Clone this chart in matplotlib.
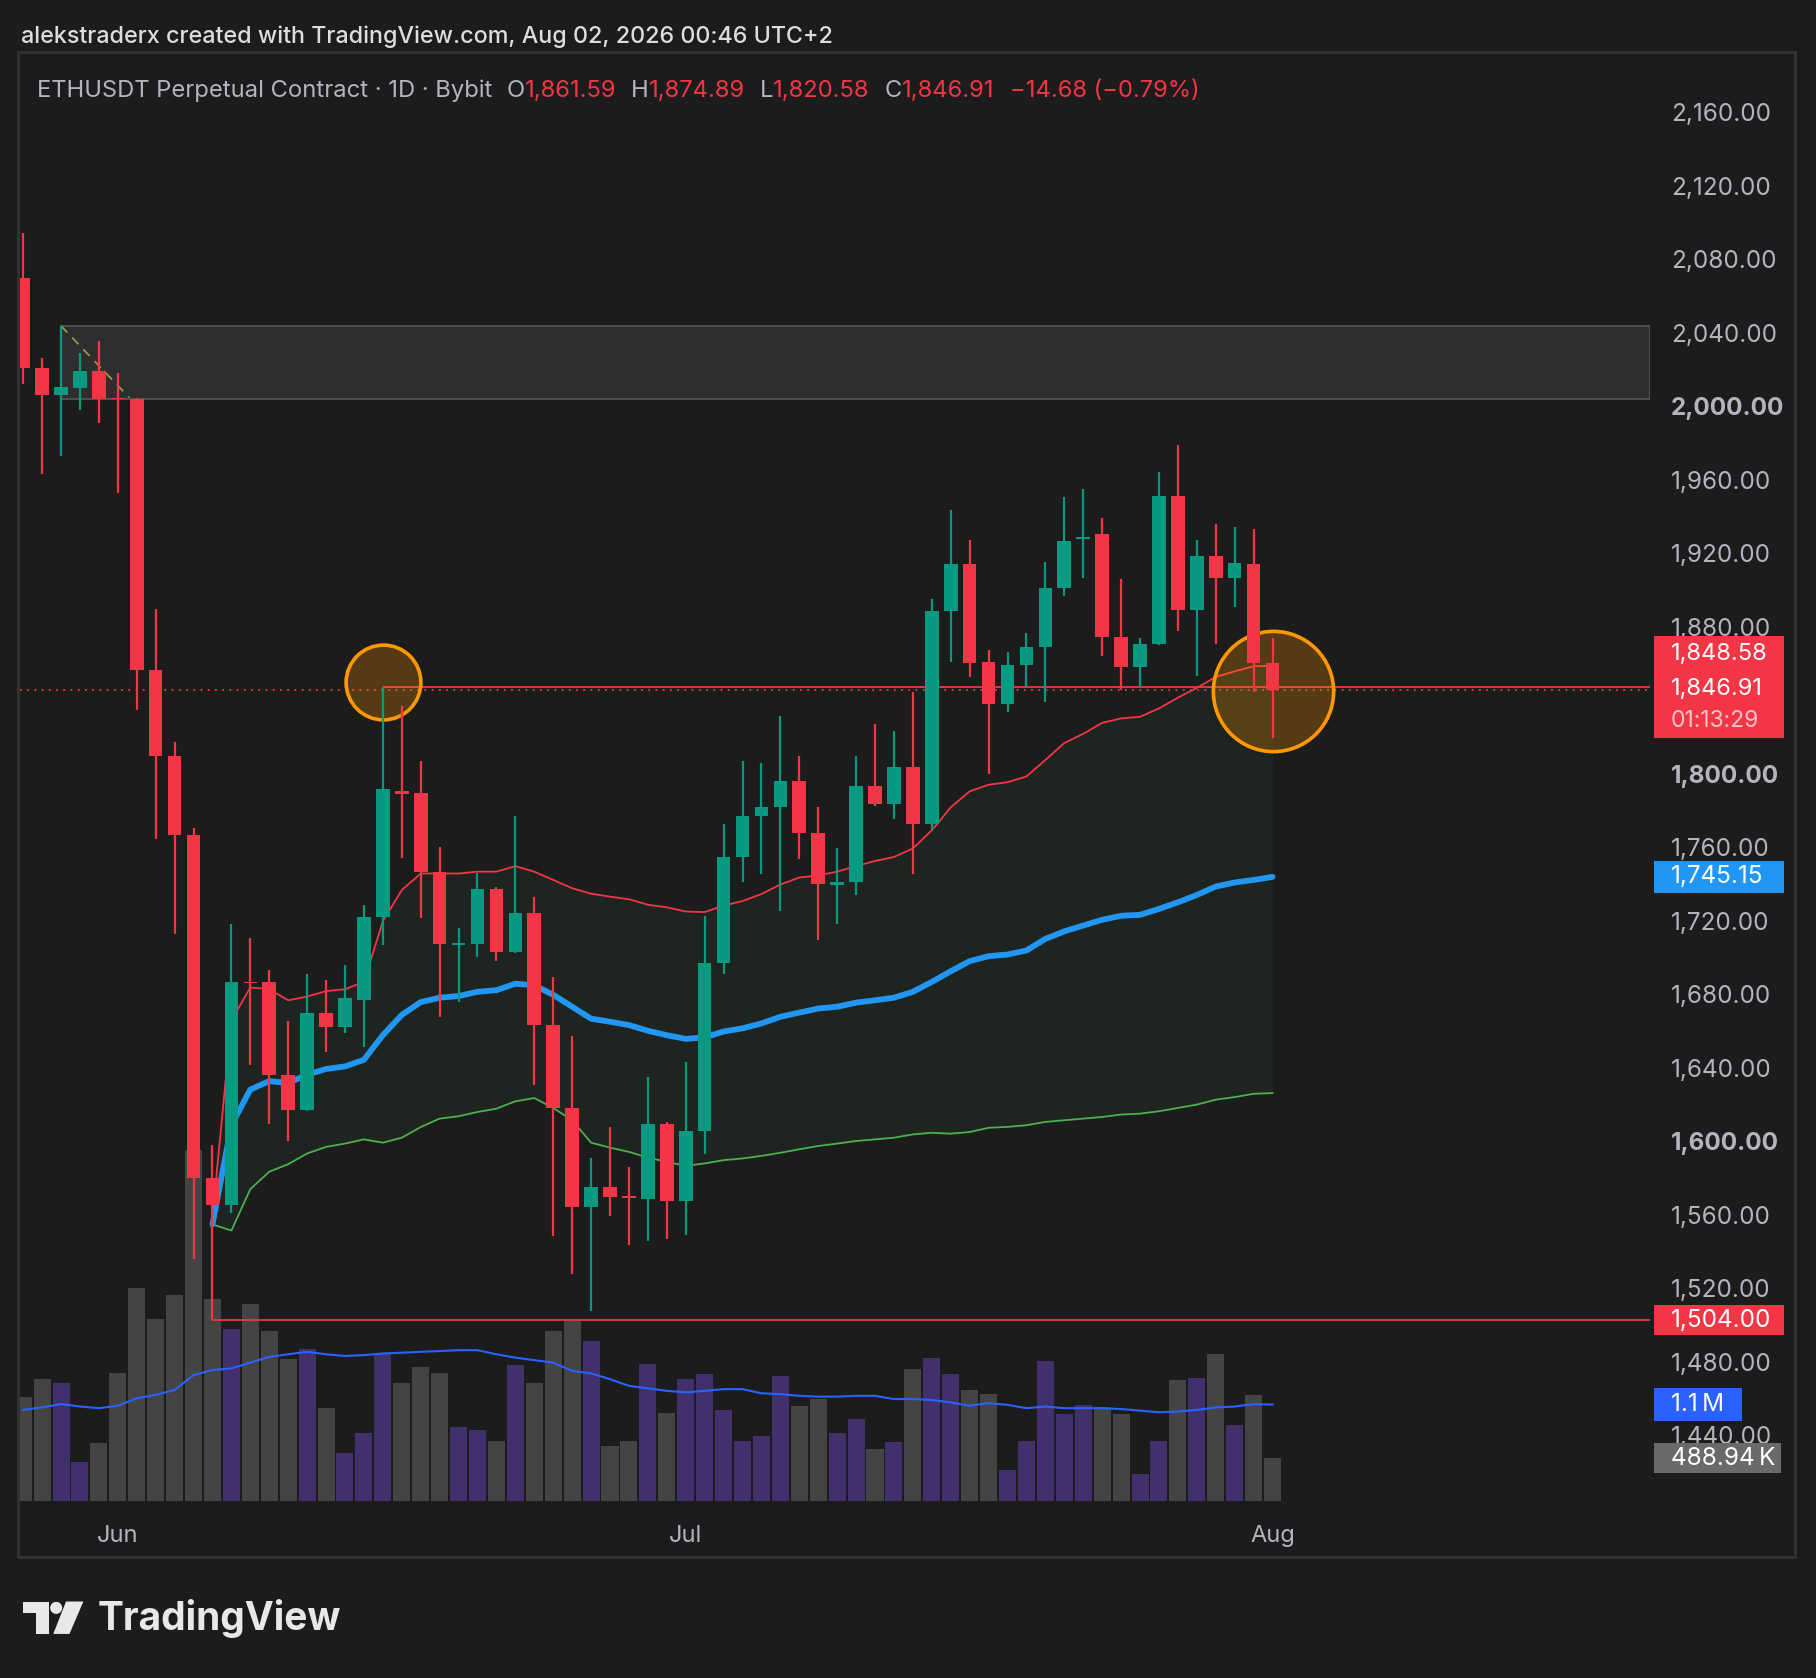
import numpy as np
import pandas as pd
import matplotlib
matplotlib.use('Agg')
import matplotlib.pyplot as plt
import matplotlib.dates as mdates
from matplotlib.transforms import blended_transform_factory
from matplotlib.patches import Rectangle, Circle, Polygon

plt.rcParams['font.family'] = ['Inter', 'DejaVu Sans']

# ---------------------------------------------------------------------------
# data (ETHUSDT perp, 1D, May 27 -> Aug 1)
# ---------------------------------------------------------------------------
dates = pd.date_range('2026-05-27', periods=67, freq='D')

opens = [2071.3, 2022.2, 2007.3, 2011.3, 2020.3, 2005.8, 2005.0, 1857.5, 1811.1, 1768.2,
         1581.1, 1566.6, 1688.0, 1688.0, 1637.5, 1618.5, 1671.3, 1663.6, 1678.0, 1723.1,
         1792.0, 1790.8, 1748.0, 1708.0, 1708.7, 1738.5, 1704.2, 1725.4, 1664.5, 1619.4,
         1565.3, 1576.6, 1571.2, 1570.0, 1610.4, 1569.0, 1606.8, 1698.3, 1756.0, 1778.2,
         1783.1, 1797.5, 1769.1, 1741.0, 1742.5, 1794.8, 1784.9, 1805.2, 1774.1, 1890.0,
         1915.7, 1862.0, 1839.5, 1860.2, 1870.2, 1902.2, 1929.0, 1931.5, 1875.6, 1859.3,
         1872.0, 1952.2, 1890.5, 1919.8, 1908.0, 1915.7, 1861.59]
highs = [2095.7, 2027.6, 2045.0, 2030.3, 2036.6, 2019.5, 2005.5, 1890.9, 1818.8, 1771.8,
         1599.0, 1719.5, 1712.0, 1694.7, 1666.8, 1692.5, 1689.3, 1697.0, 1730.0, 1848.58,
         1838.2, 1808.0, 1761.5, 1717.3, 1747.0, 1739.8, 1778.2, 1734.4, 1690.6, 1658.6,
         1592.3, 1609.0, 1587.0, 1636.5, 1611.7, 1644.2, 1724.0, 1774.1, 1808.4, 1807.0,
         1832.7, 1811.1, 1783.1, 1760.6, 1811.1, 1828.2, 1824.6, 1845.8, 1896.3, 1945.0,
         1928.3, 1868.8, 1867.5, 1877.8, 1916.6, 1951.8, 1956.3, 1940.5, 1907.2, 1875.1,
         1965.3, 1980.2, 1928.3, 1937.4, 1935.6, 1934.7, 1874.89]
lows = [2013.2, 1964.4, 1974.4, 1999.2, 1992.0, 1954.0, 1836.0, 1766.0, 1714.1, 1537.3,
        1504.0, 1562.0, 1643.0, 1610.4, 1601.4, 1618.0, 1649.6, 1660.0, 1652.3, 1708.3,
        1755.6, 1723.0, 1669.0, 1677.0, 1701.5, 1699.3, 1704.0, 1632.0, 1549.5, 1529.2,
        1509.0, 1560.8, 1545.0, 1547.0, 1548.0, 1550.4, 1594.6, 1692.5, 1742.1, 1746.6,
        1726.8, 1754.7, 1711.0, 1719.5, 1735.3, 1783.6, 1776.4, 1746.6, 1770.5, 1862.0,
        1853.9, 1801.2, 1835.0, 1848.5, 1840.4, 1898.0, 1908.0, 1865.6, 1846.7, 1848.5,
        1871.1, 1878.7, 1854.4, 1872.0, 1891.8, 1846.0, 1820.58]
closes = [2022.2, 2007.3, 2011.8, 2020.3, 2005.0, 2005.0, 1857.5, 1811.1, 1768.2, 1581.1,
          1566.6, 1688.0, 1687.2, 1637.5, 1618.5, 1671.3, 1663.6, 1679.0, 1723.1, 1793.0,
          1790.0, 1748.0, 1708.7, 1709.0, 1738.5, 1704.2, 1725.4, 1664.5, 1619.4, 1565.3,
          1576.6, 1571.2, 1570.5, 1610.4, 1569.0, 1606.8, 1698.3, 1756.0, 1778.2, 1783.1,
          1797.5, 1769.1, 1741.2, 1742.5, 1794.8, 1784.9, 1805.2, 1774.1, 1890.0, 1915.7,
          1861.6, 1839.5, 1860.2, 1870.2, 1902.2, 1927.9, 1929.7, 1875.6, 1859.3, 1872.0,
          1952.2, 1890.5, 1919.8, 1908.0, 1916.2, 1861.6, 1846.91]

# volume in thousands + its moving average
volume_k = [1182, 1390, 1343, 444, 662, 1466, 2430, 2071, 2345, 4000,
            2307, 1957, 2250, 1938, 1617, 1730, 1059, 548, 775, 1674,
            1343, 1532, 1456, 841, 813, 681, 1551, 1352, 1938, 2052,
            1825, 633, 690, 1560, 1002, 1390, 1447, 1040, 681, 737,
            1428, 1087, 1163, 775, 936, 596, 671, 1503, 1626, 1447,
            1267, 1220, 350, 681, 1598, 993, 1097, 1078, 993, 303,
            681, 1380, 1399, 1674, 870, 1210, 488.94]
vol_ma_k = [1040, 1068, 1106, 1078, 1059, 1087, 1172, 1210, 1267, 1437,
            1494, 1513, 1579, 1645, 1674, 1702, 1674, 1655, 1664, 1683,
            1692, 1702, 1711, 1721, 1721, 1674, 1636, 1607, 1579, 1484,
            1456, 1390, 1314, 1286, 1257, 1239, 1257, 1276, 1276, 1229,
            1220, 1200, 1191, 1191, 1200, 1200, 1163, 1163, 1153, 1125,
            1087, 1116, 1097, 1059, 1078, 1059, 1059, 1059, 1049, 1031,
            1012, 1021, 1040, 1068, 1078, 1106, 1100]

# band indicator, starts at the Jun 6 bar (index 10)
band_start = 10
band_upper = [1560, 1667, 1685, 1684, 1678, 1680, 1683, 1684, 1688, 1721,
              1738, 1747, 1747, 1747, 1748, 1748, 1751, 1748, 1743.5, 1739,
              1736, 1734.4, 1733, 1730, 1728.6, 1726.3, 1726, 1729.5, 1732, 1735.8,
              1741, 1744.8, 1746, 1748, 1751, 1753.8, 1756, 1760.6, 1770.5, 1783,
              1791.7, 1795.3, 1796.7, 1799.8, 1808.8, 1818, 1823, 1829, 1831.4, 1832.3,
              1836.8, 1842.7, 1848, 1854, 1857, 1859.8, 1860]
band_basis = [1556, 1610, 1629.4, 1634, 1633, 1637.5, 1640.6, 1642, 1645.6, 1659,
              1670, 1677, 1679.4, 1680.3, 1682.6, 1683.5, 1687, 1686.2, 1681, 1674.5,
              1668, 1666.3, 1664.5, 1661.4, 1659, 1657, 1657.8, 1661, 1662.7, 1665.4,
              1669, 1671.3, 1673.5, 1674.5, 1676.7, 1678, 1679.4, 1682.6, 1688, 1693.8,
              1699.3, 1702, 1702.9, 1705.1, 1711.4, 1715.5, 1718.7, 1721.8, 1724, 1724.5,
              1727.7, 1731.3, 1735.3, 1739.9, 1742.1, 1743.5, 1745.15]
band_lower = [1556, 1552.7, 1575.2, 1584.7, 1588.8, 1594.6, 1598.2, 1600, 1602.3, 1600.5,
              1603.2, 1609, 1613.6, 1614.9, 1617.2, 1619, 1623, 1624.8, 1619.4, 1612.7,
              1600.5, 1597.8, 1595.5, 1592.4, 1590.1, 1587.9, 1589.2, 1591, 1591.9, 1593.3,
              1595, 1596.9, 1598.7, 1600, 1601.4, 1602.3, 1603.2, 1605, 1605.9, 1605.4,
              1606.3, 1608.6, 1609.1, 1610, 1611.8, 1612.7, 1613.6, 1614.5, 1615.8, 1616.3,
              1617.6, 1619.4, 1621.2, 1623.9, 1625.3, 1627.1, 1627.5]

# drawings on the chart
zone_low, zone_high, zone_from = 2005, 2045, 2          # grey supply zone
support_level, support_from = 1504.0, 10               # red ray
swing_level, swing_from = 1848.58, 19                  # red ray at the Jun 15 high
trend_pts = [(2, 2045.0), (5.6, 2006.0)]               # dashed olive trend line
circles = [(19, 1851.0, 2900), (66, 1846.3, 7500)]     # (bar, price, marker size)

# 1,840 sits under the price tags in the reference, so it is not listed
price_ticks = [2160, 2120, 2080, 2040, 2000, 1960, 1920, 1880, 1800, 1760,
               1720, 1680, 1640, 1600, 1560, 1520, 1480, 1440]
month_ticks = ['2026-06-01', '2026-07-01', '2026-08-01']
month_labels = ['Jun', 'Jul', 'Aug']

last_price = closes[-1]
change = closes[-1] - opens[-1]
change_pct = -0.79
countdown = '01:13:29'

# ---------------------------------------------------------------------------
# colours
# ---------------------------------------------------------------------------
BG = '#1c1c1c'
UP = '#089981'
DOWN = '#f23645'
VOL_UP = '#42306c'
VOL_DOWN = '#444444'
TXT = '#b2b5be'

W_PX, H_PX = 1816, 1678
fig = plt.figure(figsize=(W_PX / 100, H_PX / 100), dpi=100)
fig.patch.set_facecolor(BG)

# plot area in pixels
PL, PR, PT, PB = 20, 1650, 52, 1501
rect = [PL / W_PX, 1 - PB / H_PX, (PR - PL) / W_PX, (PB - PT) / H_PX]

# overlay in pixel units: frame, header, logo (kept behind the chart)
ov = fig.add_axes([0, 0, 1, 1])
ov.set_xlim(0, W_PX)
ov.set_ylim(H_PX, 0)
ov.axis('off')
ov.set_zorder(-1)
ov.add_patch(Rectangle((18, 52), 1777, 1505, facecolor=BG, edgecolor='#333333', lw=2))

ax_vol = fig.add_axes(rect)
ax_vol.set_facecolor('none')
ax = ax_vol.twinx()
ax.patch.set_visible(False)
for a in (ax, ax_vol):
    for s in a.spines.values():
        s.set_visible(False)

x = mdates.date2num(dates)
x0 = x[0]
day = 18.93  # px per bar
ax_vol.set_xlim(x0 - (23.16 - PL) / day, x0 + (PR - 23.16) / day)
xr = ax_vol.get_xlim()[1]

# price scale: 40 per 73.5 px, 2160 at y=114.6
ppx = 40 / 73.5
ax.set_ylim(2160 - (PB - 114.6) * ppx, 2160 + (114.6 - PT) * ppx)
# volume scale: 11.41K per px
ax_vol.set_ylim(0, (PB - PT) * 11.41e3)

# volume
vol = np.array(volume_k) * 1e3
up = np.array(closes) >= np.array(opens)
ax_vol.bar(x, vol, width=0.9, color=np.where(up, VOL_UP, VOL_DOWN), zorder=1)
ax_vol.plot(x, np.array(vol_ma_k) * 1e3, color='#2962ff', lw=1.5, zorder=2)

# band indicator
xb = x[band_start:]
ax.fill_between(xb, band_upper, band_lower, color='#4caf50', alpha=0.06, lw=0, zorder=1)
ax.plot(xb, band_upper, color=DOWN, lw=1.3, zorder=2)
ax.plot(xb, band_lower, color='#4caf50', lw=1.3, zorder=2)
ax.plot(xb, band_basis, color='#2196f3', lw=4.2, zorder=2, solid_capstyle='round')

# drawings
ax.add_patch(Rectangle((x[zone_from], zone_low), xr - x[zone_from], zone_high - zone_low,
                       facecolor='#2e2e2e', edgecolor='#505050', lw=1.4, zorder=0.5))
ax.hlines(support_level, x[support_from], xr, color=DOWN, lw=1.3, zorder=2)
ax.hlines(swing_level, x[swing_from], xr, color=DOWN, lw=1.3, zorder=2)
ax.axhline(last_price, color=DOWN, lw=1.3, ls=(0, (1, 3)), zorder=2)
ax.plot([x0 + trend_pts[0][0], x0 + trend_pts[1][0]],
        [trend_pts[0][1], trend_pts[1][1]], color='#9a9a40', lw=1.3, ls=(0, (5, 4)), zorder=2)
for i, p, s in circles:
    ax.scatter([x[i]], [p], s=s, facecolor=(1, 0.6, 0, 0.25), edgecolor='#ff9800',
               linewidths=2.6, zorder=2.5)

# candles
o = np.array(opens)
c = np.array(closes)
col = np.where(up, UP, DOWN)
ax.vlines(x, lows, highs, colors=col, lw=1.6, zorder=3)
ax.bar(x, np.maximum(np.abs(c - o), 0.9), bottom=np.minimum(o, c), width=0.72,
       color=col, zorder=3)

# axes ticks
ax.set_yticks([])
ax_vol.set_yticks([])
ax_vol.set_xticks(mdates.date2num(pd.to_datetime(month_ticks)))
ax_vol.set_xticklabels(month_labels)
ax_vol.tick_params(axis='x', length=0, pad=17, colors=TXT, labelsize=17)

# price scale labels
tp = blended_transform_factory(ax.transAxes, ax.transData)
tv = blended_transform_factory(ax.transAxes, ax_vol.transData)
LX = 1.0129
FS = 17.5
for p in price_ticks:
    ax.text(LX, p, f'{p:,.2f}', transform=tp, ha='left', va='center', color=TXT,
            fontsize=FS, fontweight='bold' if p % 200 == 0 else 'normal', clip_on=False, zorder=4)

bx0, bx1 = 1.0022, 1.0825


def tag(y0, y1, color, trans, right=bx1):
    ax.add_patch(Rectangle((bx0, y0), right - bx0, y1 - y0, transform=trans,
                           facecolor=color, edgecolor='none', clip_on=False, zorder=5))


def label(y, s, trans, color='white', fs=FS):
    ax.text(LX, y, s, transform=trans, ha='left', va='center', color=color,
            fontsize=fs, clip_on=False, zorder=6)


tag(1821, 1876, DOWN, tp)
label(1866.5, f'{swing_level:,.2f}', tp, fs=17)
label(1847.5, f'{last_price:,.2f}', tp, fs=17)
label(1830.0, countdown, tp, color='#fbc4c9', fs=16.5)
tag(band_basis[-1] - 8.5, band_basis[-1] + 8.5, '#2196f3', tp)
label(band_basis[-1], f'{band_basis[-1]:,.2f}', tp)
tag(support_level - 8.2, support_level + 8.2, DOWN, tp)
label(support_level, f'{support_level:,.2f}', tp)
vma = vol_ma_k[-1] * 1e3
tag(vma - 185e3, vma + 185e3, '#2962ff', tv, right=1.0562)
label(vma, f'{vma / 1e6:.1f}\u2009M', tv)
lv = volume_k[-1] * 1e3
tag(lv - 172e3, lv + 172e3, '#6a6a6a', tv, right=1.0804)
label(lv, f'{lv / 1e3:.2f}\u2009K', tv)

# header
ov.text(21, 37, 'alekstraderx created with TradingView.com, Aug 02, 2026 00:46 UTC+2',
        color='#dddddd', fontsize=16.8, fontweight='medium', va='center', ha='left')

fig.canvas.draw()
r = fig.canvas.get_renderer()
segs = [('ETHUSDT Perpetual Contract \u00b7 1D \u00b7 Bybit', TXT, 14),
        ('O', TXT, 0), (f'{opens[-1]:,.2f}', DOWN, 15),
        ('H', TXT, 0), (f'{highs[-1]:,.2f}', DOWN, 15),
        ('L', TXT, 0), (f'{lows[-1]:,.2f}', DOWN, 15),
        ('C', TXT, 0), (f'{closes[-1]:,.2f}', DOWN, 15),
        (f'\u2212{abs(change):.2f} (\u2212{abs(change_pct):.2f}%)', DOWN, 0)]
cx = 37
for s, color, gap in segs:
    t = ov.text(cx, 91, s, color=color, fontsize=17.1, va='center', ha='left')
    cx += t.get_window_extent(r).width + gap

# TradingView logo
k = 1.158
ov.add_patch(Rectangle((20 * k, 1383 * k), 22 * k, 10 * k, facecolor='#e8e8e8', lw=0))
ov.add_patch(Rectangle((31 * k, 1383 * k), 11 * k, 28 * k, facecolor='#e8e8e8', lw=0))
ov.add_patch(Circle((48.5 * k, 1388.5 * k), 5.2 * k, facecolor='#e8e8e8', lw=0))
ov.add_patch(Polygon([(57 * k, 1383 * k), (72 * k, 1383 * k), (60 * k, 1411 * k), (46 * k, 1411 * k)],
                     closed=True, facecolor='#e8e8e8', lw=0))
ov.text(98, 1619, 'TradingView', color='#e8e8e8', fontsize=28, fontweight='bold',
        va='center', ha='left')

fig.savefig('out.png', dpi=100, facecolor=BG)
